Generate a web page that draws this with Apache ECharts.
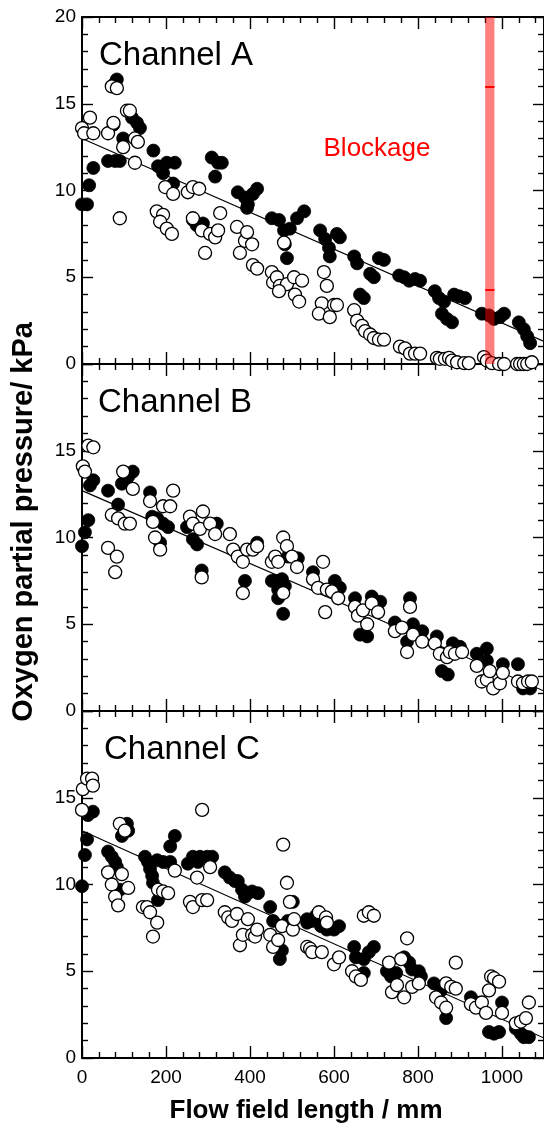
<!DOCTYPE html>
<html>
<head>
<meta charset="utf-8">
<script src="https://cdn.jsdelivr.net/npm/echarts@6/dist/echarts.min.js"></script>
<style>
html,body{margin:0;padding:0;background:#fff;}
#chart{width:544px;height:1129px;}
</style>
</head>
<body>
<div id="chart"></div>
<script>
// ---- data ----
const xTicks = [0, 200, 400, 600, 800, 1000];
const yTicks = [0, 5, 10, 15, 20];
const panelTitles = ['Channel A', 'Channel B', 'Channel C'];

const aFilled = [[0,9.2],[12,9.2],[17,10.3],[27,11.3],[62,11.7],[79,11.7],[90,11.7],[83,16.4],[79,16.2],[75,13.8],[98,13.0],[119,14.2],[131,13.9],[138,13.6],[170,12.3],[181,11.4],[193,11.0],[202,11.6],[221,11.6],[217,10.4],[264,8.3],[281,7.9],[288,8.1],[273,8.0],[309,11.9],[324,11.6],[333,11.6],[317,10.8],[371,9.9],[388,9.6],[395,9.2],[393,9.0],[407,9.8],[417,10.1],[452,8.4],[469,8.3],[481,7.7],[483,6.9],[495,7.8],[512,8.4],[529,8.8],[488,6.1],[567,7.7],[579,7.2],[588,6.7],[590,6.2],[607,7.5],[614,7.3],[648,6.2],[655,5.8],[686,5.2],[695,5.0],[707,6.1],[719,6.0],[662,4.0],[671,3.8],[755,5.1],[767,5.0],[779,4.8],[793,4.9],[805,4.8],[840,4.2],[850,3.8],[862,3.6],[857,2.9],[869,2.6],[881,2.4],[886,4.0],[898,3.9],[912,3.8],[952,2.9],[969,2.8],[981,2.6],[995,2.7],[1005,2.9],[1040,2.4],[1052,2.0],[1060,1.6],[1067,1.2]];
const aOpen = [[0,13.6],[5,13.3],[19,14.2],[27,13.3],[62,13.3],[75,13.9],[71,16.0],[83,15.9],[90,8.4],[107,14.6],[114,14.6],[98,12.5],[126,11.6],[126,13.0],[133,12.8],[198,10.2],[217,9.8],[178,8.8],[193,8.6],[186,8.2],[202,7.8],[214,7.5],[252,9.9],[264,10.2],[279,10.1],[264,8.4],[285,7.7],[293,6.4],[305,7.5],[317,7.3],[324,7.7],[329,8.7],[369,7.9],[376,6.4],[388,7.1],[393,7.6],[405,6.9],[407,5.7],[417,5.5],[452,5.3],[455,4.7],[481,7.0],[464,5.0],[471,4.5],[488,4.6],[505,5.0],[524,4.8],[507,4.0],[517,3.6],[469,4.2],[576,5.3],[583,4.5],[571,3.5],[564,2.9],[590,2.7],[600,3.4],[607,3.4],[648,3.1],[655,2.5],[667,2.2],[674,1.9],[686,1.7],[695,1.5],[707,1.4],[719,1.4],[757,1.0],[769,0.9],[781,0.6],[793,0.6],[805,0.6],[845,0.35],[852,0.3],[864,0.3],[874,0.35],[881,0.2],[893,0.1],[910,0.05],[921,0.05],[957,0.4],[964,0.2],[976,0.05],[993,0],[1005,0],[1036,0],[1043,0],[1052,0],[1060,0],[1071,0.1]];
const aLine = [[0,13.0],[1100,1.3]];

const bFilled = [[0,9.5],[7,10.3],[15,11.0],[19,13.0],[27,13.3],[62,12.7],[86,11.9],[95,13.1],[110,13.5],[121,13.8],[162,12.6],[167,11.2],[179,11.1],[193,10.8],[205,10.6],[186,9.7],[250,10.6],[264,9.9],[274,9.6],[285,8.1],[321,10.8],[352,10.2],[388,7.5],[417,9.7],[452,7.5],[460,7.5],[467,7.0],[476,7.6],[483,7.2],[467,6.5],[479,5.6],[490,8.9],[514,8.8],[550,8.0],[602,7.5],[614,7.1],[650,6.5],[662,4.4],[679,4.3],[690,6.6],[710,6.3],[745,5.1],[774,4.0],[781,6.5],[788,5.0],[810,4.6],[845,4.3],[857,2.3],[871,2.1],[883,3.9],[900,3.7],[940,3.3],[964,3.6],[964,2.9],[1002,2.7],[1038,2.7],[1050,1.3],[1067,1.3]];
const bOpen = [[2,14.1],[7,13.8],[15,15.3],[27,15.2],[62,9.4],[83,8.9],[79,8.0],[71,11.3],[86,11.1],[102,10.8],[114,10.8],[98,13.8],[121,12.8],[162,12.1],[169,10.9],[174,10.0],[186,9.3],[193,11.8],[210,11.8],[217,12.7],[257,11.2],[264,10.8],[281,10.5],[288,11.5],[305,10.8],[317,10.2],[285,7.7],[352,10.2],[360,9.3],[371,8.9],[383,8.6],[393,9.3],[407,9.3],[417,9.5],[383,6.8],[452,8.6],[460,8.9],[467,8.6],[479,10.0],[488,9.5],[500,8.9],[512,8.3],[479,6.8],[574,8.6],[550,7.6],[562,7.1],[583,7.0],[595,6.9],[610,6.5],[579,5.7],[650,6.0],[657,5.5],[669,5.8],[679,5.0],[690,6.2],[705,5.7],[745,4.6],[762,4.8],[774,3.4],[781,6.0],[788,4.4],[810,4.0],[840,3.9],[852,3.3],[869,3.1],[876,3.4],[888,3.3],[905,3.4],[940,2.6],[952,1.7],[964,1.8],[971,2.3],[979,1.3],[995,1.6],[1002,2.2],[1038,1.7],[1050,1.6],[1062,1.7],[1071,1.7]];
const bLine = [[0,12.7],[1100,1.15]];

const cFilled = [[0,9.9],[7,11.7],[12,12.6],[14,14.0],[26,14.2],[62,11.9],[71,11.6],[79,11.3],[83,11.0],[90,9.7],[95,12.8],[107,13.5],[110,13.1],[150,11.6],[157,11.3],[162,10.9],[167,10.5],[169,10.1],[181,9.1],[179,11.4],[193,11.3],[210,11.3],[210,12.2],[221,12.8],[252,11.2],[264,11.6],[281,11.6],[298,11.6],[310,11.6],[276,11.3],[340,10.7],[352,10.4],[364,10.2],[371,10.2],[381,9.7],[388,9.3],[395,9.5],[405,9.6],[419,9.5],[448,8.7],[455,7.9],[476,6.2],[471,5.7],[490,7.9],[502,9.0],[536,7.8],[536,8.0],[548,7.9],[557,8.2],[569,7.6],[583,7.4],[600,7.4],[612,7.6],[648,6.4],[652,5.8],[671,5.7],[683,6.1],[695,6.4],[671,4.9],[726,5.0],[736,4.7],[748,4.9],[767,5.8],[779,5.5],[786,5.1],[802,5.0],[807,4.7],[838,4.3],[855,3.9],[867,2.3],[926,3.5],[938,3.2],[1000,3.2],[969,1.5],[981,1.4],[993,1.5],[1033,1.7],[1045,1.4],[1052,1.2],[1064,1.2]];
const cOpen = [[0,14.3],[2,15.5],[12,16.1],[24,16.1],[26,15.7],[62,10.7],[71,10.0],[79,9.3],[86,8.8],[95,10.6],[110,9.8],[90,13.5],[102,13.1],[145,8.7],[155,8.7],[162,8.4],[179,7.8],[169,7.0],[181,9.7],[193,9.6],[205,9.5],[221,10.8],[286,14.3],[257,9.0],[264,8.7],[274,10.4],[286,9.1],[298,9.1],[305,11.0],[340,8.4],[348,8.1],[357,7.9],[369,8.3],[376,6.5],[383,7.1],[395,8.0],[405,7.1],[412,7.0],[417,7.4],[448,7.1],[455,6.4],[467,6.8],[476,7.6],[479,12.3],[488,10.1],[495,9.0],[502,7.4],[536,6.4],[543,6.3],[505,8.0],[548,6.1],[564,8.4],[581,8.1],[583,7.8],[571,6.1],[600,5.4],[612,5.8],[671,8.2],[683,8.4],[695,8.2],[643,5.0],[652,4.7],[664,4.5],[731,5.5],[760,5.7],[774,6.9],[738,3.8],[767,3.5],[750,4.2],[786,4.1],[802,4.3],[867,4.3],[879,4.1],[890,4.0],[843,3.5],[855,3.2],[867,2.9],[890,5.5],[926,3.1],[938,2.9],[952,3.2],[962,2.6],[974,4.7],[981,4.6],[993,4.4],[969,3.9],[1000,2.6],[1033,2.0],[1045,2.1],[1057,2.3],[1064,3.2]];
const cLine = [[0,13.1],[1100,1.15]];

const blockageRange = [960, 982];
const blockageMarks = [16.0, 4.3];

// ---- chart ----
const FONT = '"Liberation Sans", Arial, Helvetica, sans-serif';
const panels = [
  {filled: aFilled, open: aOpen, line: aLine},
  {filled: bFilled, open: bOpen, line: bLine},
  {filled: cFilled, open: cOpen, line: cLine}
];
const gridTops = [17, 364, 711];
const gridH = 347;

const grids = [], xAxes = [], yAxes = [], series = [];
const tickLine = {color: '#000', width: 1.4};

panels.forEach((p, g) => {
  grids.push({left: 82, top: gridTops[g], width: 462, height: gridH});
  ['bottom', 'top'].forEach(pos => {
    xAxes.push({
      gridIndex: g, type: 'value', position: pos,
      min: xTicks[0], max: 1100, interval: xTicks[1] - xTicks[0],
      axisLine: {show: true, onZero: false, lineStyle: {color: '#000', width: 2}},
      axisTick: {show: true, inside: true, length: 12, lineStyle: tickLine},
      minorTick: {show: true, splitNumber: 5, length: 6, lineStyle: tickLine},
      splitLine: {show: false},
      axisLabel: {show: pos === 'bottom' && g === 2, showMaxLabel: false, fontSize: 19, color: '#000', fontFamily: FONT, margin: 10,
        formatter: v => String(v)}
    });
  });
  ['left', 'right'].forEach(pos => {
    yAxes.push({
      gridIndex: g, type: 'value', position: pos,
      min: yTicks[0], max: yTicks[yTicks.length - 1], interval: yTicks[1] - yTicks[0],
      axisLine: {show: true, onZero: false, lineStyle: {color: '#000', width: 2}},
      axisTick: {show: true, inside: true, length: 11, lineStyle: tickLine},
      minorTick: {show: true, splitNumber: 5, length: 6, lineStyle: tickLine},
      splitLine: {show: false},
      axisLabel: {show: pos === 'left', showMaxLabel: g === 0, fontSize: 19, color: '#000', fontFamily: FONT, margin: 6,
        formatter: v => String(v)}
    });
  });
  const xi = 2 * g, yi = 2 * g;
  series.push({
    type: 'line', xAxisIndex: xi, yAxisIndex: yi, data: p.line, showSymbol: false,
    lineStyle: {color: '#000', width: 1.2}, z: 1, silent: true, animation: false
  });
  series.push({
    type: 'scatter', xAxisIndex: xi, yAxisIndex: yi, data: p.filled, symbol: 'circle', symbolSize: 13,
    itemStyle: {color: '#000', borderColor: '#000', borderWidth: 0.8, opacity: 1}, z: 2, animation: false
  });
  series.push({
    type: 'scatter', xAxisIndex: xi, yAxisIndex: yi, data: p.open, symbol: 'circle', symbolSize: 13,
    itemStyle: {color: '#fff', borderColor: '#000', borderWidth: 1.3, opacity: 1}, z: 3, animation: false
  });
});

// blockage band on top panel (drawn above the points)
series.push({
  type: 'line', xAxisIndex: 0, yAxisIndex: 0, data: [], z: 10, animation: false, silent: true,
  markArea: {
    silent: true, z: 10,
    itemStyle: {color: 'rgba(255,0,0,0.5)'},
    data: [[{xAxis: blockageRange[0]}, {xAxis: blockageRange[1]}]]
  },
  markLine: {
    silent: true, z: 11, symbol: 'none', label: {show: false},
    lineStyle: {color: '#ff0000', width: 2, type: 'solid'},
    data: blockageMarks.map(v => [{coord: [blockageRange[0], v]}, {coord: [blockageRange[1], v]}])
  }
});

const graphic = [];
const titleY = [56, 403, 750];
const titleX = [99, 98, 104];
panelTitles.forEach((t, i) => {
  graphic.push({type: 'text', x: titleX[i], y: titleY[i], z: 10,
    style: {text: t, font: '33px ' + FONT, fill: '#000', align: 'left', verticalAlign: 'middle'}});
});
graphic.push({type: 'text', x: 377, y: 149, z: 10,
  style: {text: 'Blockage', font: '26px ' + FONT, fill: '#ff0000', align: 'center', verticalAlign: 'middle'}});
graphic.push({type: 'text', x: 24, y: 522, rotation: Math.PI / 2, z: 10,
  style: {text: 'Oxygen partial pressure/ kPa', font: 'bold 29px ' + FONT, fill: '#000', align: 'center', verticalAlign: 'middle'}});
graphic.push({type: 'text', x: 306, y: 1111, z: 10,
  style: {text: 'Flow field length / mm', font: 'bold 26px ' + FONT, fill: '#000', align: 'center', verticalAlign: 'middle'}});

const chart = echarts.init(document.getElementById('chart'), null, {renderer: 'canvas'});
chart.setOption({
  animation: false,
  backgroundColor: '#fff',
  grid: grids,
  xAxis: xAxes,
  yAxis: yAxes,
  series: series,
  graphic: graphic
});
</script>
</body>
</html>
